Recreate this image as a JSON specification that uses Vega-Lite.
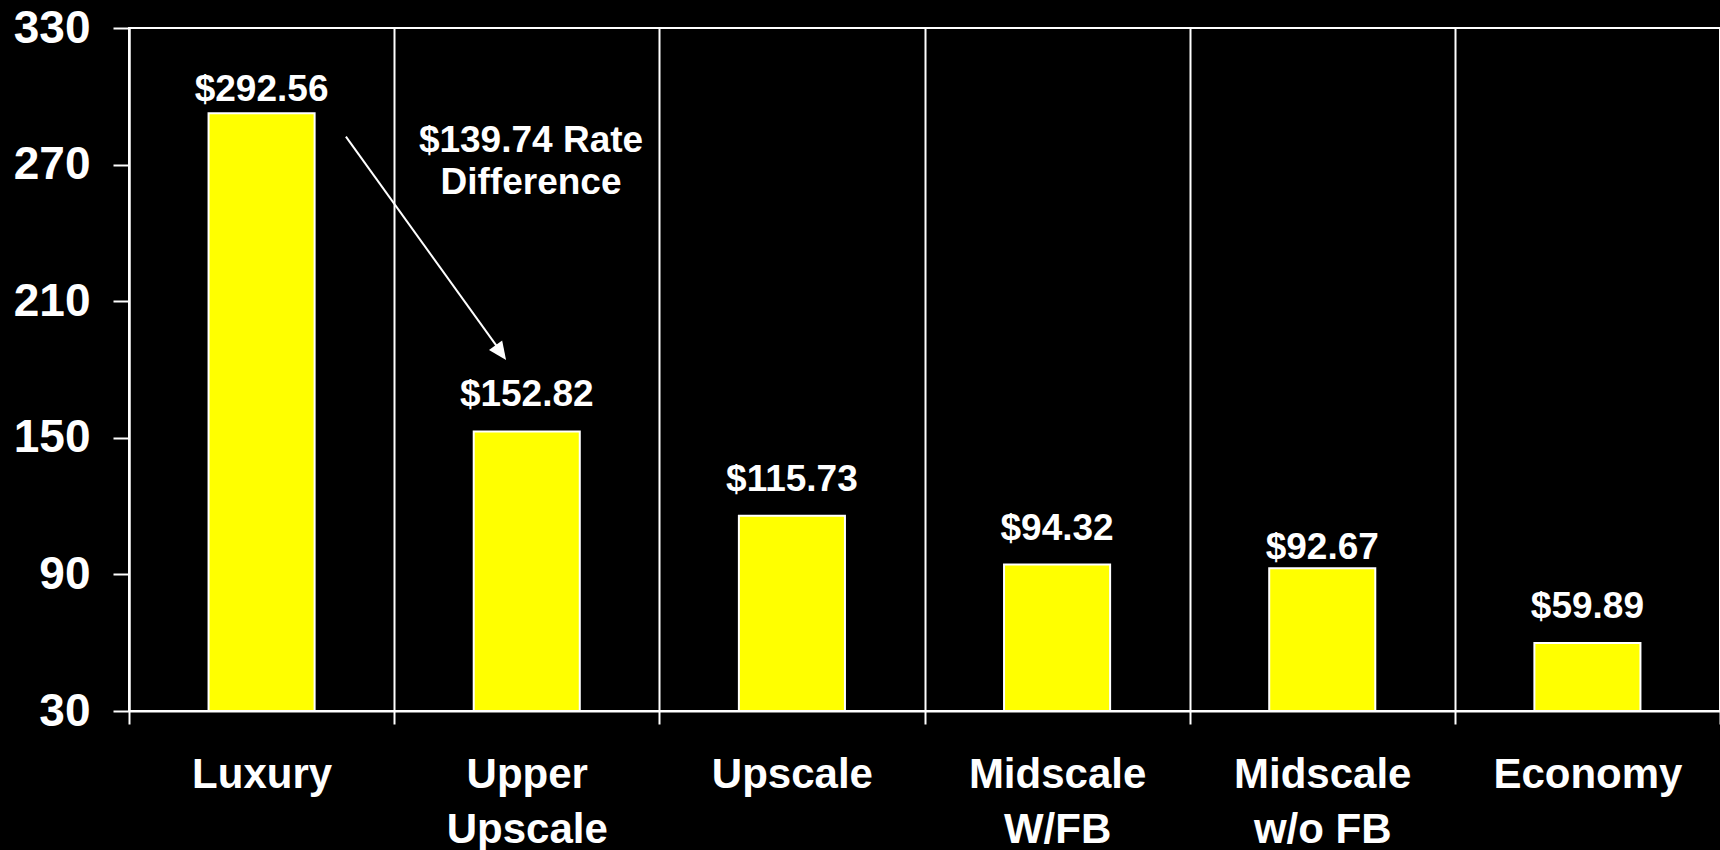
{
  "$schema": "https://vega.github.io/schema/vega-lite/v6.json",
  "width": 1591,
  "height": 683,
  "autosize": {"type": "none"},
  "padding": {"left": 129, "top": 28, "right": 0, "bottom": 139},
  "background": "#000000",
  "config": {
    "view": {"stroke": "#ffffff", "strokeWidth": 2},
    "font": "Liberation Sans"
  },
  "layer": [
    {
      "data": {
        "values": [
          {"segment": "Luxury", "rate": 292.56},
          {"segment": "Upper Upscale", "rate": 152.82},
          {"segment": "Upscale", "rate": 115.73},
          {"segment": "Midscale W/FB", "rate": 94.32},
          {"segment": "Midscale w/o FB", "rate": 92.67},
          {"segment": "Economy", "rate": 59.89}
        ]
      },
      "encoding": {
        "x": {
          "field": "segment",
          "type": "nominal",
          "sort": null,
          "scale": {"paddingInner": 0, "paddingOuter": 0},
          "axis": {
            "title": null,
            "labelAngle": 0,
            "labelFont": "Liberation Sans",
            "labelFontSize": 42,
            "labelFontWeight": "bold",
            "labelColor": "#ffffff",
            "labelLineHeight": 55,
            "labelPadding": 30,
            "labelBaseline": "top",
            "labelLimit": 600,
            "labelOverlap": false,
            "labelBound": false,
            "labelExpr": "indexof(datum.label, ' ') > 0 ? [substring(datum.label, 0, indexof(datum.label, ' ')), substring(datum.label, indexof(datum.label, ' ') + 1)] : datum.label",
            "tickBand": "extent",
            "tickSize": 13,
            "tickWidth": 2,
            "tickColor": "#ffffff",
            "domainColor": "#ffffff",
            "domainWidth": 2,
            "grid": true,
            "gridColor": "#ffffff",
            "gridWidth": 2
          }
        },
        "y": {
          "field": "rate",
          "type": "quantitative",
          "scale": {"domain": [30, 330], "nice": false, "zero": false},
          "axis": {
            "title": null,
            "values": [30, 90, 150, 210, 270, 330],
            "grid": false,
            "labelFont": "Liberation Sans",
            "labelFontSize": 46,
            "labelFontWeight": "bold",
            "labelColor": "#ffffff",
            "labelPadding": 23,
            "labelBaseline": "middle",
            "labelBound": false,
            "tickSize": 16,
            "tickWidth": 2,
            "tickColor": "#ffffff",
            "domainColor": "#ffffff",
            "domainWidth": 2
          }
        }
      },
      "layer": [
        {
          "mark": {"type": "bar", "color": "#ffff00", "stroke": "#ffffff", "strokeWidth": 2, "width": {"band": 0.4}},
          "encoding": {"y2": {"datum": 30}}
        },
        {
          "transform": [{"filter": "datum.segment !== 'Luxury' && datum.segment !== 'Midscale w/o FB'"}],
          "mark": {"type": "text", "color": "#ffffff", "fontSize": 37, "fontWeight": "bold", "font": "Liberation Sans", "baseline": "alphabetic", "dy": -25},
          "encoding": {"text": {"field": "rate", "type": "quantitative", "format": "$.2f"}}
        },
        {
          "transform": [{"filter": "datum.segment === 'Luxury'"}],
          "mark": {"type": "text", "color": "#ffffff", "fontSize": 37, "fontWeight": "bold", "font": "Liberation Sans", "baseline": "alphabetic", "dy": -12},
          "encoding": {"text": {"field": "rate", "type": "quantitative", "format": "$.2f"}}
        },
        {
          "transform": [{"filter": "datum.segment === 'Midscale w/o FB'"}],
          "mark": {"type": "text", "color": "#ffffff", "fontSize": 37, "fontWeight": "bold", "font": "Liberation Sans", "baseline": "alphabetic", "dy": -9},
          "encoding": {"text": {"field": "rate", "type": "quantitative", "format": "$.2f"}}
        }
      ]
    },
    {
      "data": {"values": [{"note": "$139.74 Rate\nDifference"}]},
      "layer": [
        {
          "mark": {"type": "rule", "color": "#ffffff", "strokeWidth": 2},
          "encoding": {
            "x": {"datum": 0.818, "type": "quantitative", "scale": {"domain": [0, 6], "nice": false, "zero": false}, "axis": null},
            "y": {"datum": 282.3, "type": "quantitative"},
            "x2": {"datum": 1.41},
            "y2": {"datum": 186.5}
          }
        },
        {
          "mark": {"type": "point", "filled": true, "color": "#ffffff", "opacity": 1, "shape": "M0,0 L-0.45,-1 L0.45,-1 Z", "size": 1300, "angle": -35.6},
          "encoding": {
            "x": {"datum": 1.422, "type": "quantitative", "scale": {"domain": [0, 6], "nice": false, "zero": false}, "axis": null},
            "y": {"datum": 184.2, "type": "quantitative"}
          }
        },
        {
          "mark": {"type": "text", "color": "#ffffff", "fontSize": 37, "fontWeight": "bold", "font": "Liberation Sans", "align": "center", "baseline": "alphabetic", "lineBreak": "\n", "lineHeight": 42},
          "encoding": {
            "x": {"datum": 1.516, "type": "quantitative", "scale": {"domain": [0, 6], "nice": false, "zero": false}, "axis": null},
            "y": {"datum": 275.7, "type": "quantitative"},
            "text": {"field": "note", "type": "nominal"}
          }
        }
      ]
    }
  ],
  "resolve": {"scale": {"x": "independent"}, "axis": {"x": "independent"}}
}
